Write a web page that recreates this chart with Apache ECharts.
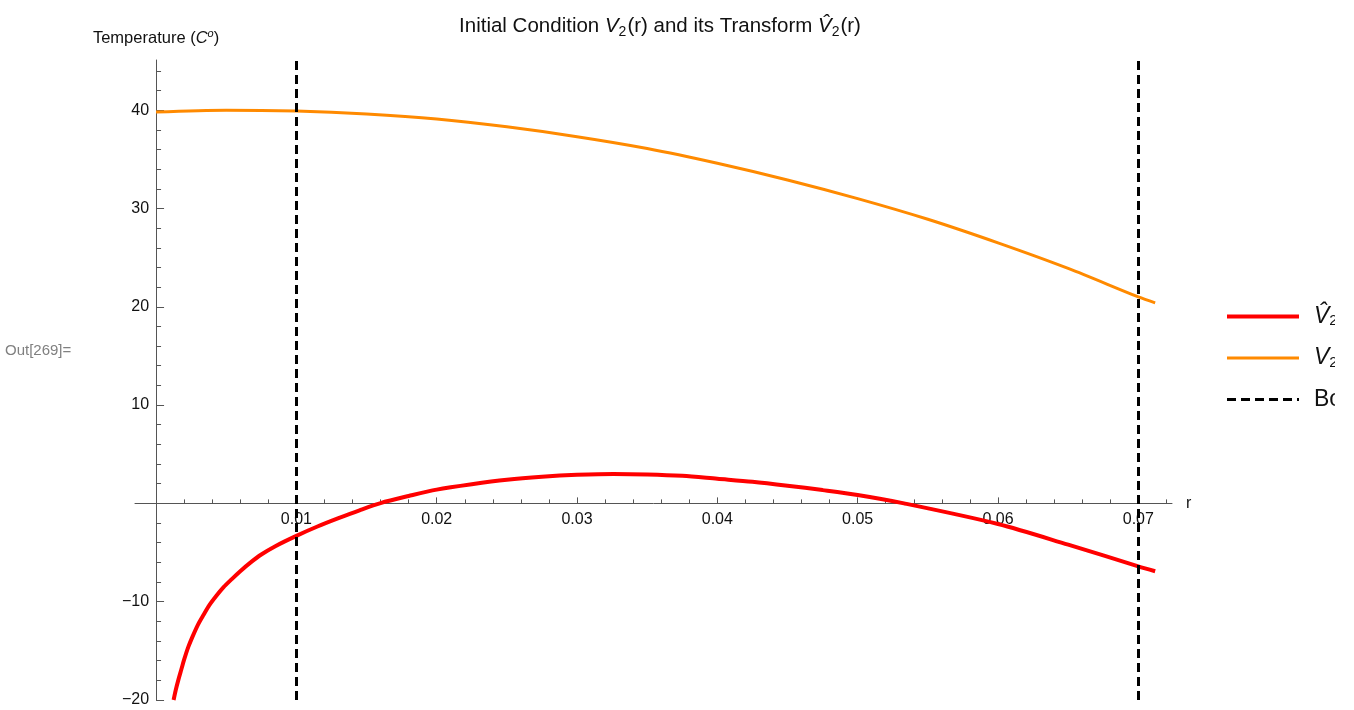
<!DOCTYPE html>
<html>
<head>
<meta charset="utf-8">
<title>Initial Condition V2(r) and its Transform</title>
<script src="https://cdn.jsdelivr.net/npm/echarts@6/dist/echarts.min.js"></script>
<style>
  html, body { margin: 0; padding: 0; background: #fff; }
  #chart { width: 1354px; height: 710px; }
</style>
</head>
<body>
<div id="chart"></div>
<script>
// Initial condition V2(r) (orange)
const v2R = [0, 0.005, 0.01, 0.015, 0.02, 0.025, 0.03, 0.035, 0.04, 0.045, 0.05, 0.055, 0.06, 0.065, 0.07, 0.0712];
const v2Val = [39.8, 40.0, 39.9, 39.6, 39.1, 38.3, 37.3, 36.1, 34.6, 32.9, 31.0, 28.9, 26.5, 23.9, 21.0, 20.4];

// Transformed condition V̂2(r) (red)
const v2HatR = [0.00125, 0.0014, 0.0016, 0.0018, 0.002, 0.0023, 0.0026, 0.003, 0.0034, 0.0038, 0.0043, 0.0048,
  0.0054, 0.006, 0.0067, 0.0075, 0.0085, 0.01, 0.0115, 0.013, 0.0145, 0.016, 0.018, 0.02, 0.0225, 0.025,
  0.0275, 0.03, 0.0326, 0.035, 0.0375, 0.04, 0.0425, 0.045, 0.0475, 0.05, 0.0533, 0.06, 0.065, 0.07, 0.0712];
const v2HatVal = [-20, -19.0, -17.9, -16.9, -15.9, -14.6, -13.55, -12.3, -11.3, -10.35, -9.4, -8.55,
  -7.7, -6.9, -6.05, -5.2, -4.35, -3.3, -2.35, -1.5, -0.7, 0.03, 0.75, 1.4, 1.95, 2.4,
  2.7, 2.9, 3.0, 2.95, 2.8, 2.5, 2.2, 1.8, 1.35, 0.85, 0.0, -2.1, -4.2, -6.4, -6.9];

// Boundary positions
const boundaries = [0.01, 0.07];

// Axis ticks
const xMajorTicks = [0.01, 0.02, 0.03, 0.04, 0.05, 0.06, 0.07];
const xMinorTicks = [0.002, 0.004, 0.006, 0.008, 0.012, 0.014, 0.016, 0.018, 0.022, 0.024, 0.026, 0.028,
  0.032, 0.034, 0.036, 0.038, 0.042, 0.044, 0.046, 0.048, 0.052, 0.054, 0.056, 0.058,
  0.062, 0.064, 0.066, 0.068, 0.072];
const yMajorTicks = [-20, -10, 10, 20, 30, 40];
const yMinorTicks = [-18, -16, -14, -12, -8, -6, -4, -2, 2, 4, 6, 8, 12, 14, 16, 18,
  22, 24, 26, 28, 32, 34, 36, 38, 42, 44];

const X_MIN = -0.0015, X_MAX = 0.0724, Y_MIN = -20, Y_MAX = 45.1;

// Plot frame
const W = 1354, H = 710;
const G = { left: 135, right: 182, top: 60, bottom: 10 };
const gridW = W - G.left - G.right;
const gridH = H - G.top - G.bottom;
// Axes cross at the origin: shift each axis inward to the other axis' zero
const yAxisShift = -gridW * (0 - X_MIN) / (X_MAX - X_MIN);
const xAxisShift = -gridH * (0 - Y_MIN) / (Y_MAX - Y_MIN);

const pairs = (xs, ys) => xs.map((x, i) => [x, ys[i]]);
const fmtX = v => String(+v.toFixed(3));
const fmtY = v => (v < 0 ? '\u2212' + Math.abs(v) : String(v));

const axisGray = '#555555';
const font = '"Liberation Sans", Arial, sans-serif';

const RED = '#ff0000', ORANGE = '#ff8a00', BLACK = '#000000';
const DASH = [9, 5];

const chart = echarts.init(document.getElementById('chart'), null, { renderer: 'canvas' });

chart.setOption({
  animation: false,
  backgroundColor: '#ffffff',
  title: {
    text: '{n|Initial Condition }{v|V}{s|2}{n|(r) and its Transform }{v|V\u0302}{s|2}{n|(r)}',
    left: 655,
    textAlign: 'center',
    top: 9,
    textStyle: {
      fontWeight: 'normal',
      rich: {
        n: { fontFamily: font, fontSize: 20.5, fontWeight: 'normal', color: '#111', lineHeight: 25 },
        v: { fontFamily: font, fontSize: 20.5, fontWeight: 'normal', fontStyle: 'italic', color: '#111', lineHeight: 25 },
        s: { fontFamily: font, fontSize: 14, fontWeight: 'normal', color: '#111', verticalAlign: 'bottom', lineHeight: 18, padding: [0, 1, 0, 0] }
      }
    }
  },
  legend: {
    orient: 'vertical',
    left: 1225,
    top: 305,
    padding: 0,
    itemWidth: 72,
    itemHeight: 14,
    itemGap: 18,
    itemStyle: { opacity: 0 },
    data: [
      { name: 'hat', lineStyle: { color: RED, width: 4 } },
      { name: 'v2', lineStyle: { color: ORANGE, width: 3 } },
      { name: 'Boundary', lineStyle: { color: BLACK, width: 3, type: DASH } }
    ],
    formatter: name => {
      if (name === 'hat') return '{v|V\u0302}{s|2}';
      if (name === 'v2') return '{v|V}{s|2}';
      return '{n|Boundary}';
    },
    textStyle: {
      padding: [0, 0, 0, 10],
      rich: {
        v: { fontFamily: font, fontSize: 23, fontStyle: 'italic', color: '#111', lineHeight: 24 },
        n: { fontFamily: font, fontSize: 23, color: '#111', lineHeight: 24 },
        s: { fontFamily: font, fontSize: 15, color: '#111', verticalAlign: 'bottom', lineHeight: 17 }
      }
    }
  },
  graphic: [{
    type: 'text',
    left: 5,
    top: 343,
    style: { text: 'Out[269]=', fontFamily: font, fontSize: 15, fill: '#808080' }
  }, {
    // output cell edge trims the legend text on the right
    type: 'rect',
    right: 0,
    top: 280,
    z: 100,
    shape: { width: 19, height: 150 },
    style: { fill: '#ffffff' }
  }],
  grid: { left: G.left, right: G.right, top: G.top, bottom: G.bottom, containLabel: false, outerBoundsMode: 'none' },
  xAxis: [{
    type: 'value', min: X_MIN, max: X_MAX, position: 'bottom', offset: xAxisShift,
    name: 'r', nameLocation: 'end', nameGap: 14,
    nameTextStyle: { fontFamily: font, fontSize: 16, color: '#111', verticalAlign: 'middle' },
    axisLine: { onZero: false, lineStyle: { color: axisGray, width: 1 } },
    axisTick: { show: true, inside: true, length: 6, customValues: xMajorTicks, lineStyle: { color: axisGray } },
    axisLabel: { customValues: xMajorTicks, formatter: fmtX, margin: 8, fontFamily: font, fontSize: 16, color: '#111' },
    splitLine: { show: false }
  }, {
    type: 'value', min: X_MIN, max: X_MAX, position: 'bottom', offset: xAxisShift,
    axisLine: { show: false, onZero: false },
    axisTick: { show: true, inside: true, length: 4, customValues: xMinorTicks, lineStyle: { color: axisGray } },
    axisLabel: { show: false },
    splitLine: { show: false }
  }],
  yAxis: [{
    type: 'value', min: Y_MIN, max: Y_MAX, position: 'left', offset: yAxisShift,
    name: '{n|Temperature (}{i|C}{p|o}{n|)}', nameLocation: 'end', nameGap: 12,
    nameTextStyle: {
      align: 'center',
      rich: {
        n: { fontFamily: font, fontSize: 16.5, color: '#111', lineHeight: 20 },
        i: { fontFamily: font, fontSize: 16.5, fontStyle: 'italic', color: '#111', lineHeight: 20 },
        p: { fontFamily: font, fontSize: 11, fontStyle: 'italic', color: '#111', verticalAlign: 'top', lineHeight: 14 }
      }
    },
    axisLine: { onZero: false, lineStyle: { color: axisGray, width: 1 } },
    axisTick: { show: true, inside: true, length: 8, customValues: yMajorTicks, lineStyle: { color: axisGray } },
    axisLabel: { customValues: yMajorTicks, formatter: fmtY, margin: 7, fontFamily: font, fontSize: 16, color: '#111' },
    splitLine: { show: false }
  }, {
    type: 'value', min: Y_MIN, max: Y_MAX, position: 'left', offset: yAxisShift,
    axisLine: { show: false, onZero: false },
    axisTick: { show: true, inside: true, length: 5, customValues: yMinorTicks, lineStyle: { color: axisGray } },
    axisLabel: { show: false },
    splitLine: { show: false }
  }],
  series: [{
    name: 'hat',
    type: 'line',
    data: pairs(v2HatR, v2HatVal),
    smooth: 0.3,
    symbol: 'none',
    clip: true,
    z: 3,
    lineStyle: { color: RED, width: 4 },
    itemStyle: { color: RED }
  }, {
    name: 'v2',
    type: 'line',
    data: pairs(v2R, v2Val),
    smooth: 0.3,
    symbol: 'none',
    z: 3,
    lineStyle: { color: ORANGE, width: 3 },
    itemStyle: { color: ORANGE }
  }, {
    name: 'Boundary',
    type: 'line',
    data: [],
    symbol: 'none',
    z: 4,
    lineStyle: { color: BLACK, width: 3, type: DASH },
    itemStyle: { color: BLACK },
    markLine: {
      silent: true,
      symbol: ['none', 'none'],
      label: { show: false },
      lineStyle: { color: BLACK, width: 3, type: DASH },
      data: boundaries.map(b => ({ xAxis: b }))
    }
  }]
});
</script>
</body>
</html>
